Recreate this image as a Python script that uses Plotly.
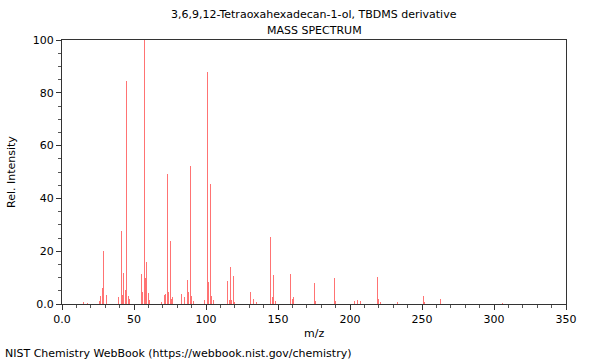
import plotly.graph_objects as go

mz = [15, 18, 26, 27, 28, 29, 31, 39, 41, 42, 43, 44, 45, 46, 47,
      55, 56, 57, 58, 59, 60, 61, 69, 71, 72, 73, 74, 75, 76, 77,
      83, 85, 87, 88, 89, 90, 91, 99, 101, 102, 103, 104, 105,
      115, 116, 117, 118, 119, 120, 131, 133, 135, 145, 146, 147, 148,
      159, 160, 161, 175, 176, 189, 190, 203, 205, 207, 219, 220, 221,
      233, 251, 252, 263, 306]
intensity = [0.8, 0.5, 1.0, 3.0, 6.2, 20.0, 3.4, 2.8, 27.6, 3.4, 11.7, 5.4, 84.6, 3.0, 2.0,
             11.5, 4.5, 100.0, 10.0, 15.8, 4.2, 1.5, 0.6, 3.4, 3.8, 49.2, 4.5, 23.9, 2.0, 2.5,
             3.8, 2.5, 9.0, 4.7, 52.3, 3.0, 1.0, 1.5, 87.8, 8.3, 45.5, 3.0, 1.5,
             8.8, 1.5, 13.9, 1.5, 10.7, 0.8, 4.5, 2.0, 0.8, 25.4, 2.8, 11.0, 1.2,
             11.4, 2.0, 2.7, 8.0, 1.2, 9.8, 1.0, 1.0, 1.5, 1.2, 10.2, 2.0, 0.8,
             0.8, 3.0, 0.8, 2.0, 0.4]

x_ticks = [0, 50, 100, 150, 200, 250, 300, 350]
x_labels = ["0.0", "50", "100", "150", "200", "250", "300", "350"]
y_ticks = [0, 20, 40, 60, 80, 100]
y_labels = ["0.0", "20", "40", "60", "80", "100"]

font = "DejaVu Sans, sans-serif"
W, H = 600, 360
L, R, T, B = 62, 34, 40, 56

fig = go.Figure(go.Bar(
    x=mz, y=intensity, width=0.7,
    marker=dict(color="rgba(255,40,40,0.65)", line=dict(width=0)),
    hoverinfo="x+y",
))

pw, ph = W - L - R, H - T - B
def px(xp):
    return (xp - L) / pw
def py(yp):
    return (H - B - yp) / ph

fig.update_layout(
    width=W, height=H,
    margin=dict(l=L, r=R, t=T, b=B),
    paper_bgcolor="white", plot_bgcolor="white",
    font=dict(family=font, size=11, color="black"),
    showlegend=False,
    bargap=0,
    annotations=[
        dict(text="3,6,9,12-Tetraoxahexadecan-1-ol, TBDMS derivative", x=px(314), y=py(14),
             xref="paper", yref="paper", showarrow=False, xanchor="center", yanchor="middle"),
        dict(text="MASS SPECTRUM", x=px(314), y=py(30), xref="paper", yref="paper",
             showarrow=False, xanchor="center", yanchor="middle"),
        dict(text="NIST Chemistry WebBook (https://webbook.nist.gov/chemistry)", x=px(3), y=py(353),
             xref="paper", yref="paper", showarrow=False, xanchor="left", yanchor="middle"),
        dict(text="m/z", x=px(314), y=py(333), xref="paper", yref="paper",
             showarrow=False, xanchor="center", yanchor="middle"),
        dict(text="Rel. Intensity", x=px(11), y=py(172), xref="paper", yref="paper",
             showarrow=False, xanchor="center", yanchor="middle", textangle=-90),
    ],
)

fig.update_xaxes(
    range=[0, 350], tickvals=x_ticks, ticktext=x_labels,
    ticks="outside", ticklen=5, tickcolor="#333", tickwidth=1,
    minor=dict(dtick=10, tick0=0, ticks="outside", ticklen=3, tickcolor="#555"),
    showline=True, linecolor="#333", linewidth=1, mirror=True,
    showgrid=False, zeroline=False, tickfont=dict(size=11),
)
fig.update_yaxes(
    range=[0, 100], tickvals=y_ticks, ticktext=y_labels,
    ticks="outside", ticklen=5, tickcolor="#333", tickwidth=1,
    minor=dict(dtick=5, tick0=0, ticks="outside", ticklen=3, tickcolor="#555"),
    showline=True, linecolor="#333", linewidth=1, mirror=True,
    showgrid=False, zeroline=False, tickfont=dict(size=11),
)

fig.write_html("out.html", config={"displayModeBar": False},
               post_script="document.body.style.margin='0';")
